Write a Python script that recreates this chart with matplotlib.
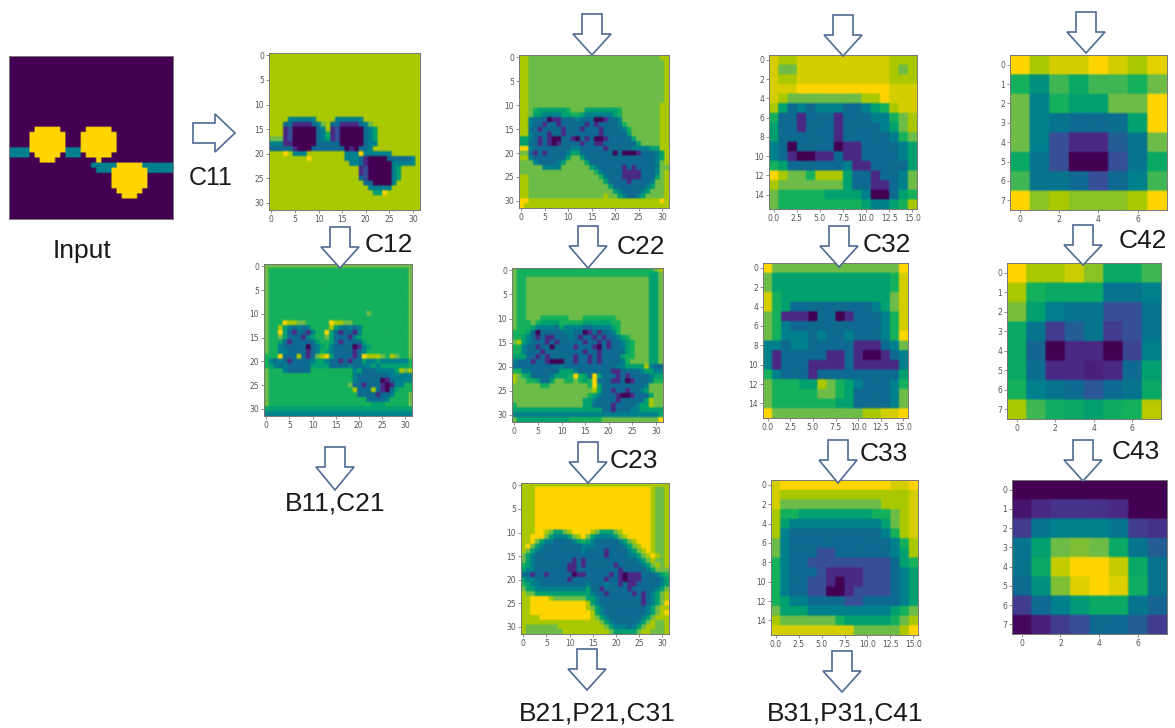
import numpy as np
import matplotlib
matplotlib.use('Agg')
import matplotlib.pyplot as plt
from matplotlib.colors import LinearSegmentedColormap
from matplotlib.patches import Polygon

# heat levels: 0 dark purple ... 8 lime, y yellow, 9 gold
BLANK0 = "00000000 00000000 00000000 00000000"
BLANK8 = "88888888 88888888 88888888 88888888"

input_rows = [BLANK0] * 14 + [
    "00000999 99000009 99990000 00000000",
    "00009999 99900099 99999000 00000000",
    "00009999 99900099 99999000 00000000",
    "00009999 99900099 99999000 00000000",
    "44449999 99944499 99999000 00000000",
    "44440999 99044409 99990000 00000000",
    "00000099 90000000 09000000 00000000",
    "00000000 00000000 44444999 99444444",
    "00000000 00000000 04449999 99944444",
    "00000000 00000000 00009999 99900000",
    "00000000 00000000 00009999 99900000",
    "00000000 00000000 00009999 99900000",
    "00000000 00000000 00000999 99000000",
    "00000000 00000000 00000099 90000000",
] + [BLANK0] * 4

c11_rows = [BLANK8] * 13 + [
    "88884444 44888844 44448888 88888888",
    "88833111 13478331 11134788 88888888",
    "88812000 00348120 00003458 88888888",
    "88812000 00346120 00003458 88888888",
    "77712000 00345120 00003458 88888888",
    "44411000 00333330 00003448 88888888",
    "33333100 03333333 01033488 88888888",
    "88898444 88888888 44494444 44888888",
    "88888888 98888888 44431000 03333348",
    "88888888 88888888 84431000 00444448",
    "88888888 88888888 88812000 00458888",
    "88888888 88888888 88812000 00458888",
    "88888888 88888888 88832000 00458888",
    "88888888 88888888 88883300 00488888",
    "88888888 88888888 88888444 44888888",
    "88888888 88888888 88888855 98888888",
] + [BLANK8] * 3

c12_rows = ["77777777 77777777 77777777 77777777"] + ["76666666 66666666 66666666 66666667"] * 9 + [
    "76666666 66666666 66666676 66666667",
    "76666666 66666666 66666666 66666667",
    "76669887 76666698 87766666 66666667",
    "76685434 34666685 43434666 66666667",
    "76695313 31466953 13314666 66666667",
    "76675333 14566753 33145666 66666667",
    "76653133 33356653 13333566 66666667",
    "76643333 30345643 33301456 66666667",
    "76644333 31346543 33313466 66666667",
    "66693338 31378953 33313988 87687667",
    "64343133 33455433 13133544 54444446",
    "65434333 33555533 33433445 45555556",
    "76664333 33666666 66645333 44445878",
    "76666666 66666666 66643333 33344444",
    "76666666 66666666 66643333 30134444",
    "76666666 66666666 66733133 31014466",
    "76666666 66666666 66683338 31035666",
    "76666666 66666666 66663333 13346667",
    "76666666 66666666 66666633 33466667",
    "76666666 66666666 66666665 55666667",
    "55555555 55555555 55555555 55555555",
    "44444444 44444444 44444444 44444444",
]

c21_rows = ["88777777 77777777 77777777 77777788"] + ["88777777 77777777 77777777 77777778"] * 9 + [
    "88777777 77777777 77777777 77777788",
    "88765555 55677755 55555677 77777788",
    "88755444 45566544 44445677 77777788",
    "88433301 13334333 00133477 77777788",
    "88433133 13333313 13333467 77777788",
    "88331333 31333133 31333346 77777788",
    "88433313 31333333 31333335 77777788",
    "55431310 03310313 00133333 57777788",
    "55331310 13333133 11333333 35777788",
    "99433333 33344333 33133333 44445588",
    "77313133 33455333 33330300 01333458",
    "88433333 33577533 33333333 33333458",
    "77743333 45777753 33333333 33333478",
    "77777444 47777775 43333313 13333477",
    "77777777 77777777 64333311 11333478",
    "88777777 77777777 76433311 11333578",
    "88777777 77777777 77533331 33334778",
    "88777777 77777777 77753333 33345778",
    "88777777 77777777 77775433 33457778",
    "88777777 77777777 77877543 34577778",
    "99888888 88888888 88888888 88888898",
    "98888888 88888888 88888888 88888888",
]

c22_rows = [
    "76666666 66666666 66666666 66666678",
    "76666666 66666666 66666666 66666557",
] + ["76677777 77777777 77777777 77777557"] * 8 + [
    "76677766 66667776 66666677 77777557",
    "76667655 55666665 55555667 77777557",
    "76665444 43544443 34444567 77777557",
    "66653033 33344330 13133467 77777557",
    "66543131 13334313 31313345 67777557",
    "78543331 31333331 33131334 56777557",
    "66433133 03333133 31031334 56777557",
    "66433313 33333331 33133333 56777557",
    "55533131 33333133 13133335 66777557",
    "43331331 00033133 13133334 67777557",
    "33333333 33433333 33333344 55558433",
    "66443333 33555433 33333113 33345544",
    "87653333 45556965 39533313 13333455",
    "87766533 57766765 69333113 01333466",
    "77777766 77777777 69533333 33334777",
    "77777777 77777777 78533133 13345777",
    "77777777 77777777 65433310 01333577",
    "77777777 77777775 54333313 33335877",
    "67777777 77777775 53333133 33455877",
    "55555555 55555555 55533133 34455555",
    "44444444 44444444 44444444 44444445",
    "75555555 55556666 66677777 77777779",
]

c23_rows = ["88888888 88888888 88888888 88888888"] + ["88899999 99999999 99999999 99998778"] * 9 + [
    "88899875 57899998 75557899 99998778",
    "88999754 44578975 44445789 99998778",
    "88975443 33345654 33333457 89998778",
    "89754333 33333444 33333345 78998778",
    "87543333 33333433 33133334 57898778",
    "75433333 33333333 33133334 45789878",
    "75433333 33313133 33333333 34578778",
    "65433333 33113133 33331333 33457878",
    "54433333 33113333 33333133 33345777",
    "33133133 33301133 33313101 11333456",
    "54433333 33133333 33133101 11333345",
    "65443333 33333343 33433131 13333345",
    "75544444 44444453 31333331 33333457",
    "87755555 55555554 33133333 13134578",
    "88999987 77777755 43333333 33134578",
    "88999999 99999985 43333333 33134579",
    "88999999 99999987 54333333 33345788",
    "88999999 99999998 54333333 33345789",
    "88889999 99999998 75433333 33457888",
    "88888888 88888888 87543333 34578778",
    "87777777 88888888 88754443 45788778",
    "87777777 78888888 88875555 57887778",
]

c31_rows = [
    "y88yyyyy yyyyy888",
    "y77yyyyy yyyyy878",
    "y88yyyyy yyyyy888",
    "yyy99999 99999yyy",
    "y8777777 77889yyy",
    "85343444 334568yy",
    "63313331 33344678",
    "53313331 33334578",
    "53333331 33333467",
    "43033330 11333345",
    "43100113 11333345",
    "65333333 41133335",
    "98776888 53313347",
    "87777777 53311347",
    "76666655 55400356",
    "76666666 66544568",
]

c32_rows = [
    "97777777 77777779",
    "75555555 5555556y",
    "75555555 5555556y",
    "y6555555 5555557y",
    "y6533333 3333457y",
    "76111033 0133346y",
    "76433333 3333346y",
    "76444343 34333469",
    "44344333 33111347",
    "41333331 13100134",
    "41333111 13111114",
    "64333133 33333335",
    "76665587 65433346",
    "76666677 65333347",
    "76666666 55333347",
    "97777777 77788yy9",
]

c33_rows = [
    "y9999999 99999yy9",
    "y8888888 8888888y",
    "y7777777 7777888y",
    "86655555 5556678y",
    "85444444 4444578y",
    "84333333 3333468y",
    "74333333 33333468",
    "74333223 33333458",
    "64332222 22222356",
    "64333211 11222345",
    "64332210 11222345",
    "64332200 12222345",
    "65443333 22333345",
    "75554444 44444567",
    "87777776 55555678",
    "yyyyyyyy y7777789",
]

c41 = [[9, 8, 8.5, 8.5, 9, 8.5, 8, 8.7],
       [6, 4.5, 6.5, 5.5, 6.5, 6.5, 6, 7],
       [7, 4, 6, 5, 5, 7, 7, 9],
       [7, 4, 3.5, 3, 3, 3.2, 5, 9],
       [7, 4, 2, 1, 1, 2.5, 3.5, 7],
       [5.5, 3.5, 2, 0, 0, 2, 3.5, 5.5],
       [6.5, 3.5, 3.5, 3, 2, 3, 4, 6.5],
       [9, 7.5, 8, 7.5, 7.5, 7.5, 8, 9]]

c42 = [[9, 8, 8, 8.4, 7.5, 5.5, 5.5, 6.5],
       [8, 6, 5.5, 5.5, 5.5, 3.5, 3.5, 4],
       [7.2, 5, 3.8, 3.5, 3.5, 2, 2, 3.5],
       [5.5, 3.5, 1.5, 2.5, 3.5, 1.5, 2, 3.5],
       [5.5, 2.8, 0, 1, 1, 0, 1.7, 4],
       [5.5, 3.2, 1, 1, 0.8, 1, 3, 5],
       [6, 4, 3.5, 3, 2.3, 3, 3.5, 5.5],
       [8, 6.5, 5.8, 5.5, 5, 5.7, 6, 8.2]]

c43 = [[0, 0, 0, 0, 0, 0, 0, 0],
       [0.5, 1, 1.3, 1.3, 1.2, 1, 0, 0],
       [1.5, 3.5, 4, 4, 4, 3.5, 1.5, 1.2],
       [3.5, 5, 7, 7.3, 7, 5.5, 3.5, 2.5],
       [3.5, 5.5, 8.3, 9, 9, 8.3, 5.5, 3.5],
       [3, 4.5, 7.3, 8.6, 9, 8.6, 5.8, 3.5],
       [1.5, 3, 4, 4.8, 5.5, 5.5, 3.5, 2.8],
       [0.2, 0.8, 1.5, 2, 3, 3, 2.5, 1.5]]

level_colors = ['#430053', '#4b2a85', '#365098', '#0f6a90', '#00808c',
                '#00a070', '#15b05c', '#6cbc4a', '#a8c800', '#ffd500']

W, H = 1175, 728
plt.rcParams['font.family'] = ['Liberation Sans', 'DejaVu Sans']
cmap = LinearSegmentedColormap.from_list('levels', level_colors)


def decode(rows):
    out = []
    for r in rows:
        r = r.replace(' ', '')
        out.append([8.5 if c == 'y' else float(c) for c in r])
    return np.array(out)


def panel(fig, data, box, xticks=None, yticks=None, soft=2.4):
    # box is left, right, top, bottom in image pixels
    l, r, t, b = box
    ax = fig.add_axes([l/W, 1-b/H, (r-l)/W, (b-t)/H])
    n = data.shape[0]
    # the reference is a soft screenshot, so smooth over about soft pixels
    rep = max(1, round((r-l)/n/soft))
    fine = np.repeat(np.repeat(data, rep, axis=0), rep, axis=1)
    ax.imshow(fine, cmap=cmap, vmin=0, vmax=9, aspect='auto', interpolation='bilinear',
              extent=(-0.5, n-0.5, n-0.5, -0.5))
    for s in ax.spines.values():
        s.set_linewidth(0.7)
        s.set_color('#777777')
    if xticks is None:
        ax.set_xticks([])
        ax.set_yticks([])
    else:
        ax.set_xticks(xticks)
        ax.set_yticks(yticks)
        ax.tick_params(length=2, width=0.5, color='#666666', labelcolor='#555555',
                       labelsize=5.5, pad=1.5)
        for lab in ax.get_xticklabels() + ax.get_yticklabels():
            lab.set_fontfamily('DejaVu Sans')
    return ax


def arrow_down(ax, cx, top, tip):
    pts = [(cx-10, top), (cx+10, top), (cx+10, top+20), (cx+19, top+20), (cx, tip),
           (cx-19, top+20), (cx-10, top+20)]
    ax.add_patch(Polygon(pts, closed=True, fc='white', ec='#4f6a94', lw=1.2))


def arrow_right(ax, left, tip, cy):
    pts = [(left, cy-10), (left+22, cy-10), (left+22, cy-19), (tip, cy), (left+22, cy+19),
           (left+22, cy+10), (left, cy+10)]
    ax.add_patch(Polygon(pts, closed=True, fc='white', ec='#4f6a94', lw=1.2))


fig = plt.figure(figsize=(W/100, H/100), dpi=100)

t32 = [0, 5, 10, 15, 20, 25, 30]
t16x = [0, 2.5, 5, 7.5, 10, 12.5, 15]
t16y = [0, 2, 4, 6, 8, 10, 12, 14]
t8x = [0, 2, 4, 6]
t8y = list(range(8))

panel(fig, decode(input_rows), (9, 173, 56, 219), soft=1.7)
panel(fig, decode(c11_rows), (269, 420, 53, 210), t32, t32)
panel(fig, decode(c12_rows), (264, 412, 264, 416), t32, t32)
panel(fig, decode(c21_rows), (519, 669, 55, 208), t32, t32)
panel(fig, decode(c22_rows), (512, 663, 268, 422), t32, t32)
panel(fig, decode(c23_rows), (521, 669, 483, 634), t32, t32)
panel(fig, decode(c31_rows), (769, 917, 55, 209), t16x, t16y)
panel(fig, decode(c32_rows), (763, 908, 263, 418), t16x, t16y)
panel(fig, decode(c33_rows), (771, 918, 480, 635), t16x, t16y)
panel(fig, np.array(c41), (1010, 1167, 55, 210), t8x, t8y)
panel(fig, np.array(c42), (1007, 1161, 263, 419), t8x, t8y)
panel(fig, np.array(c43), (1012, 1167, 480, 634), t8x, t8y)

# overlay in image pixels for the arrows and captions
over = fig.add_axes([0, 0, 1, 1], zorder=10)
over.set_xlim(0, W)
over.set_ylim(H, 0)
over.axis('off')

arrow_right(over, 193, 235, 133)
for cx, top, tip in [(340, 227, 268), (335, 447, 490),
                     (592, 14, 55), (588, 226, 268), (588, 442, 483), (587, 649, 690),
                     (843, 15, 56), (839, 226, 267), (838, 440, 483), (842, 651, 692),
                     (1086, 12, 53), (1083, 225, 265), (1083, 440, 481)]:
    arrow_down(over, cx, top, tip)

captions = [('Input', 82, 251, 19), ('C11', 211, 178, 18), ('C12', 389, 245, 19),
            ('B11,C21', 335, 504, 19), ('C22', 641, 247, 19), ('C23', 634, 461, 19),
            ('B21,P21,C31', 597, 714, 19), ('C32', 887, 245, 19), ('C33', 884, 454, 19),
            ('B31,P31,C41', 845, 714, 19), ('C42', 1143, 241, 19), ('C43', 1136, 452, 19)]
for txt, x, y, size in captions:
    over.text(x, y, txt, fontsize=size, ha='center', va='center', color='#1a1a1a')

fig.savefig('out.png', dpi=100)
